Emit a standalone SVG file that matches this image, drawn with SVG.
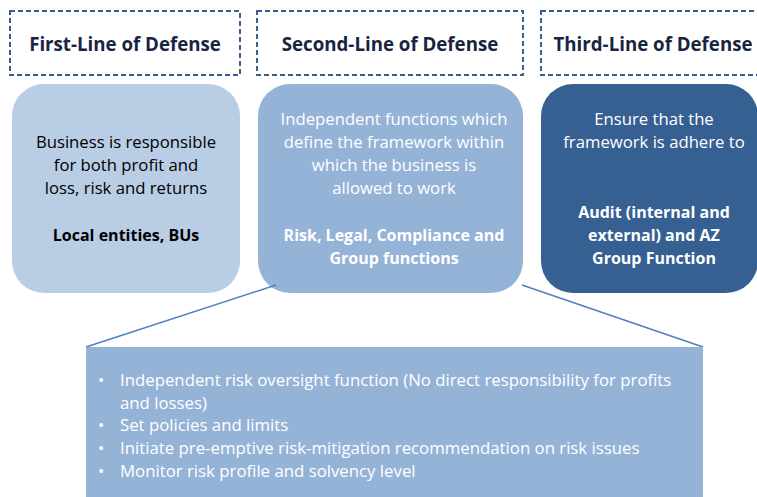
<svg xmlns="http://www.w3.org/2000/svg" width="757" height="497" viewBox="0 0 757 497">
<style>
.hdr{fill:#fff;stroke:#3b5f8e;stroke-width:2;stroke-dasharray:5 3}
.ht{font-family:"Open Sans","Liberation Sans",Arial,sans-serif;font-weight:bold;font-size:18.7px;fill:#172541;text-anchor:middle}
.t{font-family:"Open Sans","Liberation Sans",Arial,sans-serif;font-size:16.7px;text-anchor:middle}
.b{font-weight:bold;font-size:16px}
.w{fill:#fff}
.k{fill:#000}
.lt{font-family:"Open Sans","Liberation Sans",Arial,sans-serif;font-size:16.8px;fill:#fff}
.conn{stroke:#4f7fbd;stroke-width:1.5;fill:none}
</style>
<rect width="757" height="497" fill="#fff"/>
<g id="header1"><rect class="hdr" x="10" y="11" width="230" height="64"/><text class="ht" x="125" y="51">First-Line of Defense</text></g>
<g id="header2"><rect class="hdr" x="257" y="11" width="266" height="64"/><text class="ht" x="390" y="51">Second-Line of Defense</text></g>
<g id="header3"><rect class="hdr" x="541" y="11" width="230" height="64"/><text class="ht" x="653" y="51">Third-Line of Defense</text></g>
<g id="first"><rect x="12" y="84" width="228" height="209" rx="32" fill="#b9cde5"/>
<text class="t k" x="126"><tspan x="126" y="148">Business is responsible</tspan><tspan x="126" y="171">for both profit and</tspan><tspan x="126" y="194">loss, risk and returns</tspan><tspan class="b" x="126" y="241">Local entities, BUs</tspan></text></g>
<g id="second"><rect x="258" y="84" width="265" height="209" rx="32" fill="#95b3d7"/>
<text class="t w" x="394"><tspan x="394" y="125">Independent functions which</tspan><tspan x="394" y="148">define the framework within</tspan><tspan x="394" y="171">which the business is</tspan><tspan x="394" y="194">allowed to work</tspan><tspan class="b" x="394" y="241">Risk, Legal, Compliance and</tspan><tspan class="b" x="394" y="264">Group functions</tspan></text></g>
<g id="third"><rect x="541" y="84" width="217" height="209" rx="32" fill="#366092"/>
<text class="t w" x="654"><tspan x="654" y="125">Ensure that the</tspan><tspan x="654" y="148">framework is adhere to</tspan><tspan class="b" x="654" y="218">Audit (internal and</tspan><tspan class="b" x="654" y="241">external) and AZ</tspan><tspan class="b" x="654" y="264">Group Function</tspan></text></g>
<g id="connectors"><line class="conn" x1="276" y1="285" x2="86" y2="347"/><line class="conn" x1="522" y1="285" x2="703" y2="347"/></g>
<g id="detail"><rect x="86" y="347" width="617" height="152" fill="#95b3d7"/>
<text class="lt"><tspan x="98" y="386">•</tspan><tspan x="120" y="386">Independent risk oversight function (No direct responsibility for profits</tspan><tspan x="120" y="409">and losses)</tspan><tspan x="98" y="431">•</tspan><tspan x="120" y="431">Set policies and limits</tspan><tspan x="98" y="454">•</tspan><tspan x="120" y="454">Initiate pre-emptive risk-mitigation recommendation on risk issues</tspan><tspan x="98" y="477">•</tspan><tspan x="120" y="477">Monitor risk profile and solvency level</tspan></text></g>
</svg>
